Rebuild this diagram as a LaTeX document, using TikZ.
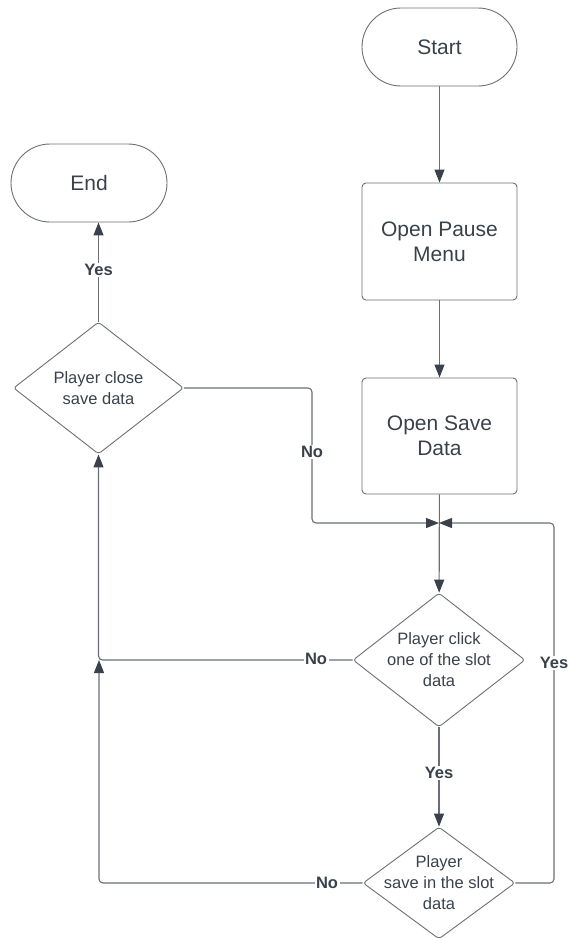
\documentclass[tikz,border=0pt]{standalone}
\usepackage{fontspec}
\setmainfont{Liberation Sans}
\usetikzlibrary{arrows.meta,shapes.geometric}
\definecolor{ink}{HTML}{3A414A}
\definecolor{wire}{HTML}{6A6F77}
\tikzset{
  every node/.style={text=ink},
  terminal/.style={draw=wire, line width=0.9pt, rounded corners=39pt,
    minimum width=155pt, minimum height=78pt, inner sep=0pt,
    font=\fontsize{21}{25}\selectfont},
  process/.style={draw=wire, line width=0.9pt, rounded corners=4pt,
    minimum width=155pt, minimum height=116pt, inner sep=0pt, align=center,
    font=\fontsize{21}{25}\selectfont},
  decision/.style={draw=wire, line width=0.9pt, diamond, rounded corners=3pt,
    inner sep=0pt},
  dtext/.style={align=center, inner sep=0pt, font=\fontsize{16.5}{21}\selectfont},
  flow/.style={draw=wire, line width=1.1pt, rounded corners=4pt,
    -{Triangle[length=13pt,width=10pt,color=ink]}},
  tag/.style={fill=white, inner sep=1.5pt, font=\bfseries\fontsize{16.5}{20}\selectfont},
}
\begin{document}
\begin{tikzpicture}[x=1pt,y=-1pt]
\useasboundingbox (0,0) rectangle (568,938);
% boxes
\node[terminal] (start) at (439.5,47) {Start};
\node[process, minimum height=117pt] (pause) at (439.5,241.5) {Open Pause\\Menu};
\node[process] (save) at (439.5,436) {Open Save\\Data};
\node[terminal, minimum width=156pt] (end) at (89,183) {End};
% decisions: outline first, text on top
\node[decision, minimum width=170pt, minimum height=132pt] (close) at (98.5,388) {};
\node[dtext] (closetxt) at (close) {Player close\\save data};
\node[decision, minimum width=172pt, minimum height=134pt] (click) at (439,660) {};
\node[dtext] (clicktxt) at (click) {Player click\\one of the slot\\data};
\node[decision, minimum width=152pt, minimum height=112pt] (slot) at (439,883) {};
\node[dtext] (slottxt) at (slot) {Player\\save in the slot\\data};
% merge point above the first decision
\coordinate (m) at (439,523);
\coordinate (mleft) at (312,523);
\coordinate (mright) at (554,523);
\coordinate (back) at (99,660);
% connectors
\draw[flow] (start) -- (pause);
\draw[flow] (pause) -- (save);
\draw[flow] (save) -- (click);
\draw[flow] (close.east) -| (mleft) -- (m);
\draw[flow] (slot.east) -| (mright) -- (m);
\draw[flow] (click.west) -| (close.south);
\draw[flow] (slot.west) -| (back);
\draw[flow] (click.south) -- (slot.north);
\draw[flow] (close.north) -- (close.north |- end.south);
% labels
\node[tag] (yes1) at (98.5,270) {Yes};
\node[tag] (no1) at (312,452) {No};
\node[tag] (no2) at (316,659) {No};
\node[tag] (yes2) at (554,663) {Yes};
\node[tag] (yes3) at (439,773) {Yes};
\node[tag] (no3) at (327,883) {No};
\end{tikzpicture}
\end{document}
